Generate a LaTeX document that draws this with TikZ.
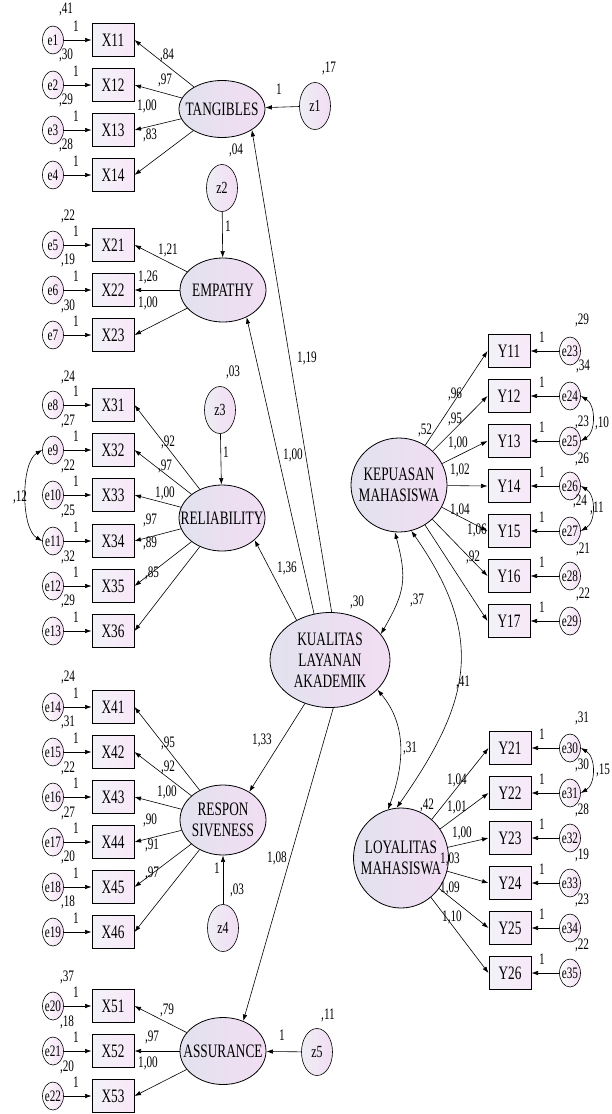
\documentclass[tikz,border=0pt]{standalone}
\usepackage{fontspec}
\setmainfont{Liberation Serif}[FakeStretch=0.7]
\usepackage{tikz}
\usetikzlibrary{arrows.meta,shapes.geometric}
\definecolor{lavl}{HTML}{E2E2EE}
\definecolor{lavr}{HTML}{F2DDF3}
\definecolor{boxl}{HTML}{F2F2F8}
\definecolor{boxr}{HTML}{F8E8F8}

\begin{document}
\begin{tikzpicture}[x=1pt,y=1pt,
 lat/.style={ellipse, draw=black, line width=0.8pt, left color=lavl, right color=lavr,
 inner xsep=-12pt, inner ysep=-4pt, align=center, font=\fontsize{19}{21}\selectfont},
 ind/.style={rectangle, draw=black, line width=1pt, left color=boxl, right color=boxr,
 minimum width=42pt, minimum height=33pt, inner sep=0pt, font=\fontsize{19}{21}\selectfont},
 err/.style={ellipse, draw=black, line width=0.6pt, left color=white, right color=lavr,
 minimum width=21pt, minimum height=28pt, inner xsep=-2pt, inner ysep=0pt, font=\fontsize{16}{18}\selectfont},
 dist/.style={ellipse, draw=black, line width=0.6pt, left color=lavl!60, right color=lavr,
 minimum width=31pt, minimum height=47pt, inner sep=0pt, font=\fontsize{17}{19}\selectfont},
 lb/.style={inner sep=0pt, font=\fontsize{16}{18}\selectfont},
 a/.style={-{Latex[length=6.5pt,width=4.5pt]}, line width=0.6pt},
 cv/.style={{Latex[length=6.5pt,width=4.5pt]}-{Latex[length=6.5pt,width=4.5pt]}, line width=0.6pt},
]
 \useasboundingbox (0,0) rectangle (612,-1114);

 % latent variables
 \node[lat, minimum width=86pt, minimum height=57pt] (TAN) at (222,-109) {TANGIBLES};
 \node[lat, minimum width=86pt, minimum height=64pt] (EMP) at (223,-290) {EMPATHY};
 \node[lat, minimum width=86pt, minimum height=66pt] (REL) at (222,-518) {RELIABILITY};
 \node[lat, minimum width=86pt, minimum height=70pt] (RES) at (223,-820) {RESPON\\SIVENESS};
 \node[lat, minimum width=86pt, minimum height=67pt] (ASS) at (223,-1051) {ASSURANCE};
 \node[lat, minimum width=120pt, minimum height=95pt] (KLA) at (330,-660) {KUALITAS\\LAYANAN\\AKADEMIK};
 \node[lat, minimum width=96pt, minimum height=94pt] (KEP) at (399,-485) {KEPUASAN\\MAHASISWA};
 \node[lat, minimum width=95pt, minimum height=100pt] (LOY) at (401,-858) {LOYALITAS\\MAHASISWA};

 % disturbances
 \node[dist] (z1) at (315,-106) {z1};
 \node[dist] (z2) at (222,-188) {z2};
 \node[dist] (z3) at (220,-410) {z3};
 \node[dist] (z4) at (223,-928) {z4};
 \node[dist] (z5) at (317,-1052) {z5};
 \draw[a] (z1) -- (TAN); \node[lb] at (279,-89) {1}; \node[lb] at (329,-68) {,17};
 \draw[a] (z2) -- (EMP); \node[lb] at (228,-226) {1}; \node[lb] at (236,-150) {,04};
 \draw[a] (z3) -- (REL); \node[lb] at (226,-452) {1}; \node[lb] at (233,-372) {,03};
 \draw[a] (z4) -- (RES); \node[lb] at (217,-868) {1}; \node[lb] at (237,-890) {,03};
 \draw[a] (z5) -- (ASS); \node[lb] at (282,-1035) {1}; \node[lb] at (328,-1015) {,11};

 % second order paths
 \draw[a] (KLA.88) -- (TAN.-35); \node[lb] at (307,-358) {1,19};
 \draw[a] (KLA.109) -- (EMP.-49); \node[lb] at (293,-455) {1,00};
 \draw[a] (KLA.130) -- (REL.-34); \node[lb] at (287,-568) {1,36};
 \draw[a] (KLA.240) -- (RES.47); \node[lb] at (262,-740) {1,33};
 \draw[a] (KLA.-86) -- (ASS.56); \node[lb] at (277,-858) {1,08};
 \node[lb] at (357,-602) {,30};
 \node[lb] at (425,-430) {,52};
 \node[lb] at (427,-805) {,42};

 % covariances between latents
 \draw[cv] (KEP.-95) to[out=-75,in=60,looseness=1.2] (KLA.27);
 \node[lb] at (417,-600) {,37};
 \draw[cv] (KEP.-75) to[out=-55,in=55,looseness=1.2] (LOY.95);
 \node[lb] at (463,-682) {,41};
 \draw[cv] (KLA.-32) to[out=-50,in=70] (LOY.105);
 \node[lb] at (410,-748) {,31};

 % TANGIBLES
 \node[err] (e1) at (53,-40) {e1};
 \node[ind] (X11) at (113,-40) {X11};
 \node[err] (e2) at (53,-85) {e2};
 \node[ind] (X12) at (113,-85) {X12};
 \node[err] (e3) at (53,-130) {e3};
 \node[ind] (X13) at (113,-130) {X13};
 \node[err] (e4) at (53,-175) {e4};
 \node[ind] (X14) at (113,-175) {X14};
 \draw[a] (e1) -- (X11); \node[lb] at (76,-26) {1}; \node[lb] at (66,-9) {,41};
 \draw[a] (e2) -- (X12); \node[lb] at (76,-71) {1}; \node[lb] at (66,-55) {,30};
 \draw[a] (e3) -- (X13); \node[lb] at (76,-116) {1}; \node[lb] at (66,-100) {,29};
 \draw[a] (e4) -- (X14); \node[lb] at (76,-161) {1}; \node[lb] at (66,-145) {,28};
 \draw[a] (TAN) -- (X11.east); \node[lb] at (167,-55) {,84};
 \draw[a] (TAN) -- (X12.east); \node[lb] at (165,-80) {,97};
 \draw[a] (TAN) -- (X13.east); \node[lb] at (147,-106) {1,00};
 \draw[a] (TAN) -- (X14.east); \node[lb] at (150,-135) {,83};

 % EMPATHY
 \node[err] (e5) at (53,-245) {e5};
 \node[ind] (X21) at (113,-245) {X21};
 \node[err] (e6) at (53,-290) {e6};
 \node[ind] (X22) at (113,-290) {X22};
 \node[err] (e7) at (53,-335) {e7};
 \node[ind] (X23) at (113,-335) {X23};
 \draw[a] (e5) -- (X21); \node[lb] at (76,-231) {1}; \node[lb] at (68,-216) {,22};
 \draw[a] (e6) -- (X22); \node[lb] at (76,-276) {1}; \node[lb] at (68,-260) {,19};
 \draw[a] (e7) -- (X23); \node[lb] at (76,-321) {1}; \node[lb] at (68,-306) {,30};
 \draw[a] (EMP) -- (X21.east); \node[lb] at (168,-250) {1,21};
 \draw[a] (EMP) -- (X22.east); \node[lb] at (148,-277) {1,26};
 \draw[a] (EMP) -- (X23.east); \node[lb] at (148,-303) {1,00};

 % RELIABILITY
 \node[err] (e8) at (53,-405) {e8};
 \node[ind] (X31) at (113,-405) {X31};
 \node[err] (e9) at (53,-450) {e9};
 \node[ind] (X32) at (113,-450) {X32};
 \node[err] (e10) at (53,-495) {e10};
 \node[ind] (X33) at (113,-495) {X33};
 \node[err] (e11) at (53,-541) {e11};
 \node[ind] (X34) at (113,-541) {X34};
 \node[err] (e12) at (53,-586) {e12};
 \node[ind] (X35) at (113,-586) {X35};
 \node[err] (e13) at (53,-631) {e13};
 \node[ind] (X36) at (113,-631) {X36};
 \draw[a] (e8) -- (X31); \node[lb] at (76,-391) {1}; \node[lb] at (68,-377) {,24};
 \draw[a] (e9) -- (X32); \node[lb] at (76,-436) {1}; \node[lb] at (68,-421) {,27};
 \draw[a] (e10) -- (X33); \node[lb] at (76,-481) {1}; \node[lb] at (68,-466) {,22};
 \draw[a] (e11) -- (X34); \node[lb] at (76,-527) {1}; \node[lb] at (68,-511) {,25};
 \draw[a] (e12) -- (X35); \node[lb] at (76,-572) {1}; \node[lb] at (68,-557) {,32};
 \draw[a] (e13) -- (X36); \node[lb] at (76,-617) {1}; \node[lb] at (68,-601) {,29};
 \draw[a] (REL) -- (X31.east); \node[lb] at (168,-442) {,92};
 \draw[a] (REL) -- (X32.east); \node[lb] at (165,-466) {,97};
 \draw[a] (REL) -- (X33.east); \node[lb] at (165,-493) {1,00};
 \draw[a] (REL) -- (X34.east); \node[lb] at (150,-520) {,97};
 \draw[a] (REL) -- (X35.east); \node[lb] at (150,-543) {,89};
 \draw[a] (REL) -- (X36.east); \node[lb] at (152,-573) {,85};
 \draw[cv] (e9.west) to[out=210,in=150,looseness=0.7] (e11.west);
 \node[lb] at (20,-497) {,12};

 % RESPONSIVENESS
 \node[err] (e14) at (53,-707) {e14};
 \node[ind] (X41) at (113,-707) {X41};
 \node[err] (e15) at (53,-752) {e15};
 \node[ind] (X42) at (113,-752) {X42};
 \node[err] (e16) at (53,-797) {e16};
 \node[ind] (X43) at (113,-797) {X43};
 \node[err] (e17) at (53,-842) {e17};
 \node[ind] (X44) at (113,-842) {X44};
 \node[err] (e18) at (53,-887) {e18};
 \node[ind] (X45) at (113,-887) {X45};
 \node[err] (e19) at (53,-932) {e19};
 \node[ind] (X46) at (113,-932) {X46};
 \draw[a] (e14) -- (X41); \node[lb] at (76,-693) {1}; \node[lb] at (68,-677) {,24};
 \draw[a] (e15) -- (X42); \node[lb] at (76,-738) {1}; \node[lb] at (68,-722) {,31};
 \draw[a] (e16) -- (X43); \node[lb] at (76,-783) {1}; \node[lb] at (68,-768) {,22};
 \draw[a] (e17) -- (X44); \node[lb] at (76,-828) {1}; \node[lb] at (68,-813) {,27};
 \draw[a] (e18) -- (X45); \node[lb] at (76,-873) {1}; \node[lb] at (68,-857) {,20};
 \draw[a] (e19) -- (X46); \node[lb] at (76,-918) {1}; \node[lb] at (68,-902) {,18};
 \draw[a] (RES) -- (X41.east); \node[lb] at (168,-743) {,95};
 \draw[a] (RES) -- (X42.east); \node[lb] at (168,-767) {,92};
 \draw[a] (RES) -- (X43.east); \node[lb] at (167,-792) {1,00};
 \draw[a] (RES) -- (X44.east); \node[lb] at (150,-820) {,90};
 \draw[a] (RES) -- (X45.east); \node[lb] at (152,-845) {,91};
 \draw[a] (RES) -- (X46.east); \node[lb] at (152,-873) {,97};

 % ASSURANCE
 \node[err] (e20) at (53,-1006) {e20};
 \node[ind] (X51) at (113,-1006) {X51};
 \node[err] (e21) at (53,-1051) {e21};
 \node[ind] (X52) at (113,-1051) {X52};
 \node[err] (e22) at (53,-1096) {e22};
 \node[ind] (X53) at (113,-1096) {X53};
 \draw[a] (e20) -- (X51); \node[lb] at (76,-992) {1}; \node[lb] at (67,-977) {,37};
 \draw[a] (e21) -- (X52); \node[lb] at (76,-1037) {1}; \node[lb] at (67,-1022) {,18};
 \draw[a] (e22) -- (X53); \node[lb] at (76,-1082) {1}; \node[lb] at (67,-1067) {,20};
 \draw[a] (ASS) -- (X51.east); \node[lb] at (167,-1010) {,79};
 \draw[a] (ASS) -- (X52.east); \node[lb] at (152,-1037) {,97};
 \draw[a] (ASS) -- (X53.east); \node[lb] at (148,-1063) {1,00};

 % KEPUASAN MAHASISWA
 \node[ind] (Y11) at (509,-351) {Y11};
 \node[err] (e23) at (570,-351) {e23};
 \node[ind] (Y12) at (509,-396) {Y12};
 \node[err] (e24) at (570,-396) {e24};
 \node[ind] (Y13) at (509,-441) {Y13};
 \node[err] (e25) at (570,-441) {e25};
 \node[ind] (Y14) at (509,-486) {Y14};
 \node[err] (e26) at (570,-486) {e26};
 \node[ind] (Y15) at (509,-531) {Y15};
 \node[err] (e27) at (570,-531) {e27};
 \node[ind] (Y16) at (509,-576) {Y16};
 \node[err] (e28) at (570,-576) {e28};
 \node[ind] (Y17) at (509,-621) {Y17};
 \node[err] (e29) at (570,-621) {e29};
 \draw[a] (e23) -- (Y11); \node[lb] at (542,-337) {1}; \node[lb] at (582,-320) {,29};
 \draw[a] (e24) -- (Y12); \node[lb] at (542,-382) {1}; \node[lb] at (583,-366) {,34};
 \draw[a] (e25) -- (Y13); \node[lb] at (542,-427) {1}; \node[lb] at (582,-422) {,23};
 \draw[a] (e26) -- (Y14); \node[lb] at (542,-472) {1}; \node[lb] at (582,-459) {,26};
 \draw[a] (e27) -- (Y15); \node[lb] at (542,-517) {1}; \node[lb] at (580,-501) {,24};
 \draw[a] (e28) -- (Y16); \node[lb] at (542,-562) {1}; \node[lb] at (583,-549) {,21};
 \draw[a] (e29) -- (Y17); \node[lb] at (542,-607) {1}; \node[lb] at (583,-594) {,22};
 \draw[a] (KEP) -- (Y11.west); \node[lb] at (455,-394) {,96};
 \draw[a] (KEP) -- (Y12.west); \node[lb] at (455,-419) {,95};
 \draw[a] (KEP) -- (Y13.west); \node[lb] at (458,-443) {1,00};
 \draw[a] (KEP) -- (Y14.west); \node[lb] at (460,-470) {1,02};
 \draw[a] (KEP) -- (Y15.west); \node[lb] at (460,-510) {1,04};
 \draw[a] (KEP) -- (Y16.west); \node[lb] at (477,-530) {1,06};
 \draw[a] (KEP) -- (Y17.west); \node[lb] at (473,-557) {,92};
 \draw[cv] (e24.east) to[out=-30,in=30] (e25.east);
 \node[lb] at (602,-423) {,10};
 \draw[cv] (e26.east) to[out=-30,in=30] (e27.east);
 \node[lb] at (597,-508) {,11};

 % LOYALITAS MAHASISWA
 \node[ind] (Y21) at (510,-748) {Y21};
 \node[err] (e30) at (570,-748) {e30};
 \node[ind] (Y22) at (510,-793) {Y22};
 \node[err] (e31) at (570,-793) {e31};
 \node[ind] (Y23) at (510,-838) {Y23};
 \node[err] (e32) at (570,-838) {e32};
 \node[ind] (Y24) at (510,-883) {Y24};
 \node[err] (e33) at (570,-883) {e33};
 \node[ind] (Y25) at (510,-928) {Y25};
 \node[err] (e34) at (570,-928) {e34};
 \node[ind] (Y26) at (510,-973) {Y26};
 \node[err] (e35) at (570,-973) {e35};
 \draw[a] (e30) -- (Y21); \node[lb] at (542,-734) {1}; \node[lb] at (582,-718) {,31};
 \draw[a] (e31) -- (Y22); \node[lb] at (542,-779) {1}; \node[lb] at (582,-765) {,30};
 \draw[a] (e32) -- (Y23); \node[lb] at (542,-824) {1}; \node[lb] at (582,-810) {,28};
 \draw[a] (e33) -- (Y24); \node[lb] at (542,-869) {1}; \node[lb] at (582,-855) {,19};
 \draw[a] (e34) -- (Y25); \node[lb] at (542,-914) {1}; \node[lb] at (582,-900) {,23};
 \draw[a] (e35) -- (Y26); \node[lb] at (542,-959) {1}; \node[lb] at (582,-945) {,22};
 \draw[a] (LOY) -- (Y21.west); \node[lb] at (457,-780) {1,04};
 \draw[a] (LOY) -- (Y22.west); \node[lb] at (457,-807) {1,01};
 \draw[a] (LOY) -- (Y23.west); \node[lb] at (462,-833) {1,00};
 \draw[a] (LOY) -- (Y24.west); \node[lb] at (450,-859) {1,03};
 \draw[a] (LOY) -- (Y25.west); \node[lb] at (450,-888) {1,09};
 \draw[a] (LOY) -- (Y26.west); \node[lb] at (452,-917) {1,10};
 \draw[cv] (e30.east) to[out=-30,in=30] (e31.east);
 \node[lb] at (603,-770) {,15};
\end{tikzpicture}
\end{document}
